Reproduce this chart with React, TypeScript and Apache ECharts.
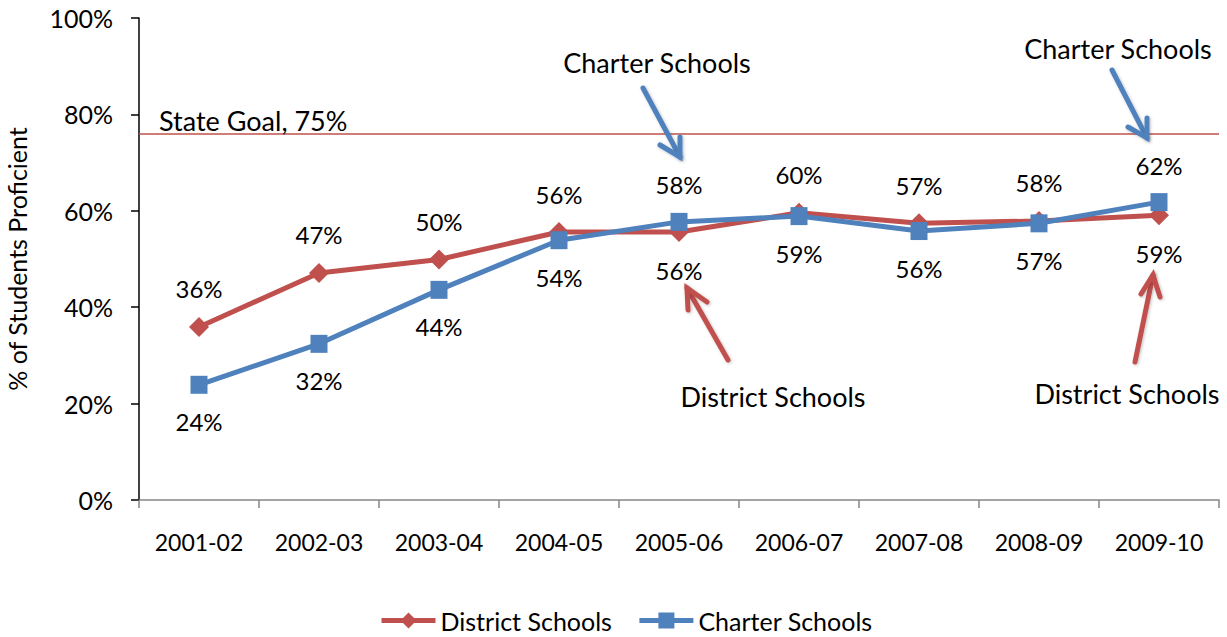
import React, { useEffect, useRef } from "react";
import * as echarts from "echarts";

const categories = ["2001-02", "2002-03", "2003-04", "2004-05", "2005-06", "2006-07", "2007-08", "2008-09", "2009-10"];
const districtValues = [35.9, 47.1, 49.9, 55.6, 55.6, 59.6, 57.4, 57.9, 59.1];
const charterValues = [23.9, 32.4, 43.6, 53.9, 57.7, 58.9, 55.8, 57.4, 61.8];
const districtLabelPos = ["top", "top", "top", "top", "bottom", "top", "top", "top", "bottom"];
const charterLabelPos = ["bottom", "bottom", "bottom", "bottom", "top", "bottom", "bottom", "bottom", "top"];
const stateGoal = 76;
const stateGoalLabel = "State Goal, 75%";
const yTicks = [0, 20, 40, 60, 80, 100];

const RED = "#C0504D";
const BLUE = "#4F81BD";
const FONT = "Lato";

export default function App() {
  const ref = useRef<HTMLDivElement>(null);
  useEffect(() => {
    if (!ref.current) return;
    const chart = echarts.init(ref.current, null, { renderer: "svg" });
    const mkData = (vals: number[], pos: string[]) =>
      vals.map((v, i) => ({
        value: v,
        label: { position: pos[i] },
      }));
    const labelBase = {
      show: true,
      formatter: (p: any) => Math.round(p.value) + "%",
      fontSize: 24,
      fontFamily: FONT,
      color: "#000",
      distance: 16,
    };
    const shadow = { shadowBlur: 3, shadowColor: "rgba(0,0,0,0.25)", shadowOffsetX: 1, shadowOffsetY: 1 };
    const arrow = (x1: number, y1: number, x2: number, y2: number, w1: number[], w2: number[], color: string) => [
      {
        type: "line",
        shape: { x1, y1, x2, y2 },
        style: { stroke: color, lineWidth: 5, lineCap: "round", ...shadow },
        z: 100,
      },
      {
        type: "polyline",
        shape: { points: [w1, [x2, y2], w2] },
        style: { stroke: color, lineWidth: 5, lineCap: "round", lineJoin: "miter", fill: null, ...shadow },
        z: 100,
      },
    ];
    const annText = (text: string, x: number, y: number) => ({
      type: "text",
      x,
      y,
      z: 100,
      style: { text, fontSize: 27, fontFamily: FONT, fill: "#000", textAlign: "center", textVerticalAlign: "middle" },
    });
    chart.setOption({
      animation: false,
      backgroundColor: "#fff",
      grid: { left: 139, right: 8, top: 18, bottom: 137, containLabel: false, outerBoundsMode: "none" },
      legend: {
        left: 374,
        top: 603,
        itemWidth: 54,
        itemHeight: 20,
        itemGap: 25,
        lineStyle: { width: 5 },
        textStyle: { fontSize: 25, fontFamily: FONT, color: "#000" },
        data: ["District Schools", "Charter Schools"],
      },
      xAxis: {
        type: "category",
        data: categories,
        boundaryGap: true,
        axisLine: { lineStyle: { color: "#868686", width: 1.5 } },
        axisTick: { show: true, length: 8, lineStyle: { color: "#868686", width: 1.5 } },
        axisLabel: { fontSize: 23, fontFamily: FONT, color: "#000", margin: 30, interval: 0 },
      },
      yAxis: {
        type: "value",
        min: 0,
        max: 100,
        interval: 20,
        name: "% of Students Proficient",
        nameLocation: "middle",
        nameGap: 110,
        nameTextStyle: { fontSize: 25, fontFamily: FONT, color: "#000" },
        axisLine: { show: true, lineStyle: { color: "#000", width: 1.5 } },
        axisTick: { show: true, length: 8, lineStyle: { color: "#000", width: 1.5 } },
        splitLine: { show: false },
        axisLabel: {
          fontSize: 25,
          fontFamily: FONT,
          color: "#000",
          margin: 26,
          customValues: yTicks,
          formatter: (v: number) => v + "%",
        },
      },
      series: [
        {
          name: "District Schools",
          type: "line",
          data: mkData(districtValues, districtLabelPos),
          symbol: "diamond",
          symbolSize: [20, 20],
          lineStyle: { color: RED, width: 5 },
          itemStyle: { color: RED },
          label: labelBase,
          z: 2,
          markLine: {
            silent: true,
            symbol: "none",
            lineStyle: { color: RED, width: 1.5, type: "solid" },
            label: {
              show: true,
              position: "insideStartTop",
              formatter: stateGoalLabel,
              fontSize: 27,
              fontFamily: FONT,
              color: "#000",
              distance: [20, 0],
            },
            data: [{ yAxis: stateGoal }],
          },
        },
        {
          name: "Charter Schools",
          type: "line",
          data: mkData(charterValues, charterLabelPos),
          symbol: "rect",
          symbolSize: [17, 18],
          lineStyle: { color: BLUE, width: 5 },
          itemStyle: { color: BLUE },
          label: labelBase,
          z: 3,
        },
      ],
      graphic: [
        annText("Charter Schools", 657, 62),
        annText("Charter Schools", 1118, 48),
        annText("District Schools", 773, 396),
        annText("District Schools", 1127, 393),
        ...arrow(643, 88, 680, 157, [660, 145], [680, 137], BLUE),
        ...arrow(1112, 70, 1147, 138, [1128, 127], [1147, 118], BLUE),
        ...arrow(728, 360, 687, 288, [688, 310], [707, 302], RED),
        ...arrow(1135, 362, 1153, 275, [1141, 294], [1160, 297], RED),
      ],
    });
    return () => chart.dispose();
  }, []);
  return <div ref={ref} style={{ position: "fixed", left: 0, top: 0, width: 1227, height: 637 }} />;
}
